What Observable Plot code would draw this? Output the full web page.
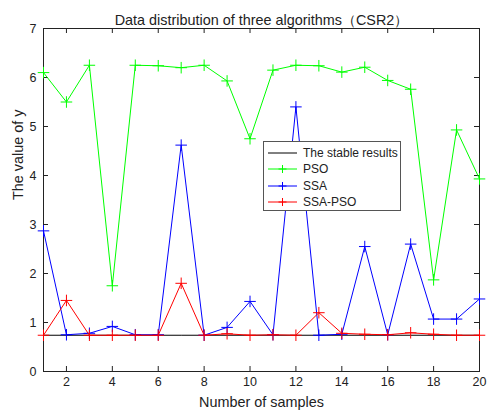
<!DOCTYPE html>
<html><head><meta charset="utf-8">
<script src="https://cdn.jsdelivr.net/npm/d3@7"></script>
<script src="https://cdn.jsdelivr.net/npm/@observablehq/plot@0.6"></script>
<style>
body{margin:0;background:#fff;font-family:"Liberation Sans",Arial,sans-serif;}
#wrap{position:relative;width:487px;height:413px;}
#legend{position:absolute;left:263px;top:141px;width:136px;height:68px;border:1px solid #555;background:#fff;font-size:12px;color:#222;}
.row{position:absolute;left:0;height:16px;display:flex;align-items:center;white-space:nowrap;}
.row svg{margin-left:4px;margin-right:5px;}
</style></head><body>
<div id="wrap"><div id="legend"></div></div>
<script>
const samples = d3.range(1, 21);
const stable = Array(20).fill(0.74);
const pso = [6.1, 5.5, 6.25, 1.75, 6.25, 6.24, 6.2, 6.25, 5.93, 4.75, 6.15, 6.25, 6.24, 6.11, 6.21, 5.94, 5.76, 1.87, 4.93, 3.93];
const ssa = [2.87, 0.75, 0.78, 0.92, 0.75, 0.75, 4.62, 0.74, 0.9, 1.43, 0.75, 5.4, 0.74, 0.76, 2.55, 0.75, 2.6, 1.07, 1.07, 1.48];
const ssapso = [0.74, 1.45, 0.74, 0.74, 0.74, 0.74, 1.8, 0.74, 0.77, 0.74, 0.75, 0.74, 1.2, 0.78, 0.76, 0.75, 0.79, 0.76, 0.74, 0.74];
const seriesNames = ["The stable results", "PSO", "SSA", "SSA-PSO"];
const seriesColors = ["#000000", "#00ff00", "#0000ff", "#ff0000"];
const xTicks = [2, 4, 6, 8, 10, 12, 14, 16, 18, 20];
const yTicks = [0, 1, 2, 3, 4, 5, 6, 7];
const title = "Data distribution of three algorithms（CSR2）";

const seriesVals = [stable, pso, ssa, ssapso];
const rows = [];
seriesVals.forEach((vals, si) => vals.forEach((v, i) => rows.push({series: seriesNames[si], x: samples[i], y: v})));
const W = 487, H = 413, mT = 28, mB = 42, mL = 43, mR = 8;
const innerH = H - mT - mB, innerW = W - mL - mR;

const marks = [
  Plot.frame({stroke: "#222"}),
  Plot.tickX(xTicks, {x: d => d, insetTop: innerH - 5, stroke: "#222"}),
  Plot.tickX(xTicks, {x: d => d, insetBottom: innerH - 5, stroke: "#222"}),
  Plot.tickY(yTicks, {y: d => d, insetRight: innerW - 5, stroke: "#222"}),
  Plot.tickY(yTicks, {y: d => d, insetLeft: innerW - 5, stroke: "#222"}),
  Plot.axisX(xTicks, {tickSize: 0, tickPadding: 6, fontSize: 12.5, label: null, fill: "#222"}),
  Plot.axisY(yTicks, {tickSize: 0, tickPadding: 7, fontSize: 12.5, label: null, fill: "#222"}),
  Plot.text([title], {frameAnchor: "top", dy: -14, fontSize: 14.4, fill: "#222"}),
  Plot.text(["Number of samples"], {frameAnchor: "bottom", dy: 35, fontSize: 14.4, fill: "#222"}),
  Plot.text(["The value of y"], {frameAnchor: "left", dx: -25, rotate: -90, fontSize: 14.4, fill: "#222"})
];
seriesNames.forEach((name, si) => {
  const data = rows.filter(r => r.series === name);
  marks.push(Plot.line(data, {x: "x", y: "y", stroke: seriesColors[si], strokeWidth: 1}));
  if (si > 0) marks.push(Plot.dot(data, {x: "x", y: "y", symbol: "plus", r: 3.8, stroke: seriesColors[si], strokeWidth: 1}));
});

const chart = Plot.plot({
  width: W, height: H, marginTop: mT, marginBottom: mB, marginLeft: mL, marginRight: mR,
  x: {domain: [1, 20]},
  y: {domain: [0, 7]},
  style: {fontFamily: "'Liberation Sans', Arial, sans-serif", background: "#fff"},
  marks
});
document.getElementById("wrap").prepend(chart);

const leg = document.getElementById("legend");
seriesNames.forEach((name, si) => {
  const row = document.createElement("div");
  row.className = "row";
  row.style.top = (2.7 + si * 16.4) + "px";
  const plus = si > 0 ? `<path d="M14.5,10V2M10.5,6H18.5" stroke="${seriesColors[si]}" fill="none"/>` : "";
  row.innerHTML = `<svg width="30" height="12"><line x1="0" x2="29" y1="6" y2="6" stroke="${seriesColors[si]}"/>${plus}</svg><span>${name}</span>`;
  leg.appendChild(row);
});
</script>
</body></html>
